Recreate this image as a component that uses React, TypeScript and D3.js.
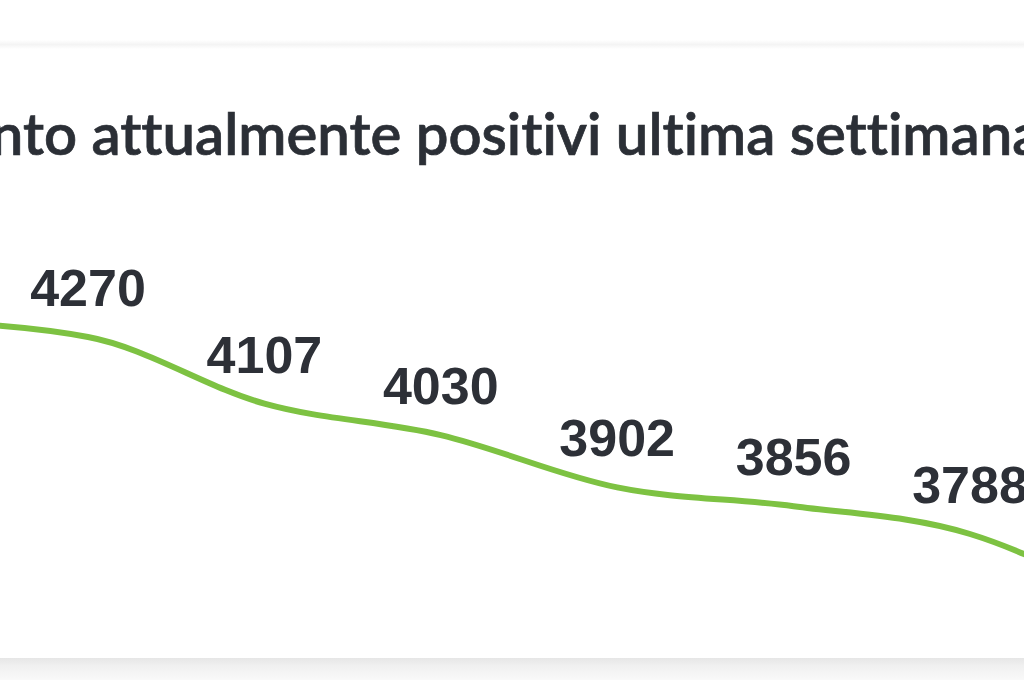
import React, { useLayoutEffect, useRef, useState } from "react";
import * as d3 from "d3";

// Data; first and last points lie just outside the visible crop
const pointIndex = [0, 1, 2, 3, 4, 5, 6, 7];
const values = [4310, 4270, 4107, 4030, 3902, 3856, 3788, 3590];
const titlePrefix = "Andamento ";
const titleRest = "attualmente positivi ultima settimana";

const W = 1024;
const H = 680;

export default function App() {
  const prefixRef = useRef<SVGTextElement>(null);
  const [prefixW, setPrefixW] = useState(0);

  useLayoutEffect(() => {
    if (prefixRef.current) setPrefixW(prefixRef.current.getComputedTextLength());
  }, []);

  const x = d3.scaleLinear().domain([1, 6]).range([88, 970]);
  const y = d3.scaleLinear().domain([3788, 4270]).range([534, 337]);

  const line = d3
    .line<number>()
    .x((_, i) => x(pointIndex[i]))
    .y((d) => y(d))
    .curve(d3.curveMonotoneX);

  const titleStyle: React.CSSProperties = {
    fontFamily: "Lato, 'Open Sans', sans-serif",
    fontWeight: 600,
    fontSize: 58,
    fontVariantLigatures: "none",
    fontFeatureSettings: "'liga' 0, 'clig' 0",
  };

  return (
    <div style={{ position: "fixed", left: 0, top: 0, width: W, height: H, background: "#fff" }}>
      <svg width={W} height={H} style={{ display: "block" }}>
        <defs>
          <linearGradient id="shadowBottom" x1="0" y1="0" x2="0" y2="1">
            <stop offset="0" stopColor="#e6e6e6" />
            <stop offset="0.35" stopColor="#f0f0f0" />
            <stop offset="1" stopColor="#f9f9f9" />
          </linearGradient>
          <linearGradient id="shadowTop" x1="0" y1="0" x2="0" y2="1">
            <stop offset="0" stopColor="#ffffff" />
            <stop offset="0.5" stopColor="#f4f4f4" />
            <stop offset="1" stopColor="#ffffff" />
          </linearGradient>
        </defs>
        <rect x={0} y={0} width={W} height={H} fill="#ffffff" />
        <rect x={0} y={40} width={W} height={9} fill="url(#shadowTop)" />
        <rect x={0} y={658} width={W} height={22} fill="url(#shadowBottom)" />

        <text ref={prefixRef} x={-2000} y={-100} style={titleStyle}>
          {titlePrefix}
        </text>
        <text
          x={77 - prefixW}
          y={155}
          fill="#2b2f36"
          stroke="#2b2f36"
          strokeWidth={0.7}
          style={titleStyle}
        >
          {titlePrefix + titleRest}
        </text>

        <path
          d={line(values) || ""}
          fill="none"
          stroke="#7dc242"
          strokeWidth={6}
          strokeLinecap="round"
          strokeLinejoin="round"
        />

        {values.map((v, i) => (
          <text
            key={i}
            x={x(pointIndex[i])}
            y={y(v) - 31}
            textAnchor="middle"
            fill="#2d3037"
            style={{ fontFamily: "'Liberation Sans', Arial, sans-serif", fontWeight: 700, fontSize: 52 }}
          >
            {v}
          </text>
        ))}
      </svg>
    </div>
  );
}
